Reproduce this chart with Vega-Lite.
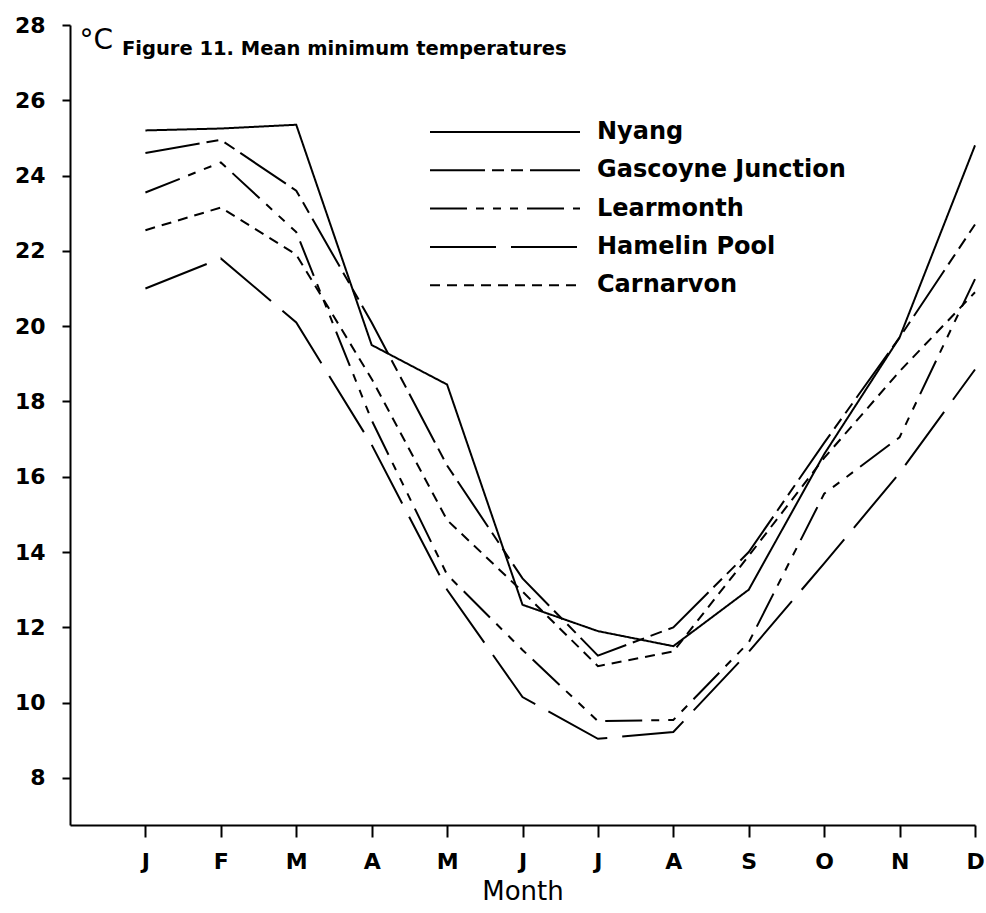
{
  "$schema": "https://vega.github.io/schema/vega-lite/v6.json",
  "width": 905,
  "height": 800,
  "autosize": "none",
  "padding": {"left": 70, "top": 25, "right": 11, "bottom": 88},
  "background": "white",
  "title": {
    "text": "Figure 11. Mean minimum temperatures",
    "anchor": "start",
    "frame": "group",
    "orient": "top",
    "offset": 0,
    "dx": 52,
    "dy": 45,
    "baseline": "top",
    "font": "DejaVu Sans",
    "fontSize": 19.5,
    "fontWeight": "bold",
    "color": "black"
  },
  "data": {
    "values": [
      {"station": "Nyang", "month": 1, "temp": 25.2},
      {"station": "Nyang", "month": 2, "temp": 25.25},
      {"station": "Nyang", "month": 3, "temp": 25.35},
      {"station": "Nyang", "month": 4, "temp": 19.5},
      {"station": "Nyang", "month": 5, "temp": 18.45},
      {"station": "Nyang", "month": 6, "temp": 12.6},
      {"station": "Nyang", "month": 7, "temp": 11.9},
      {"station": "Nyang", "month": 8, "temp": 11.5},
      {"station": "Nyang", "month": 9, "temp": 13.0},
      {"station": "Nyang", "month": 10, "temp": 16.6},
      {"station": "Nyang", "month": 11, "temp": 19.7},
      {"station": "Nyang", "month": 12, "temp": 24.8},
      {"station": "Gascoyne Junction", "month": 1, "temp": 24.6},
      {"station": "Gascoyne Junction", "month": 2, "temp": 24.95},
      {"station": "Gascoyne Junction", "month": 3, "temp": 23.6},
      {"station": "Gascoyne Junction", "month": 4, "temp": 20.1},
      {"station": "Gascoyne Junction", "month": 5, "temp": 16.3},
      {"station": "Gascoyne Junction", "month": 6, "temp": 13.3},
      {"station": "Gascoyne Junction", "month": 7, "temp": 11.25},
      {"station": "Gascoyne Junction", "month": 8, "temp": 12.0},
      {"station": "Gascoyne Junction", "month": 9, "temp": 14.0},
      {"station": "Gascoyne Junction", "month": 10, "temp": 16.9},
      {"station": "Gascoyne Junction", "month": 11, "temp": 19.7},
      {"station": "Gascoyne Junction", "month": 12, "temp": 22.7},
      {"station": "Learmonth", "month": 1, "temp": 23.55},
      {"station": "Learmonth", "month": 2, "temp": 24.35},
      {"station": "Learmonth", "month": 3, "temp": 22.5},
      {"station": "Learmonth", "month": 4, "temp": 17.5},
      {"station": "Learmonth", "month": 5, "temp": 13.4},
      {"station": "Learmonth", "month": 6, "temp": 11.4},
      {"station": "Learmonth", "month": 7, "temp": 9.51},
      {"station": "Learmonth", "month": 8, "temp": 9.54},
      {"station": "Learmonth", "month": 9, "temp": 11.6},
      {"station": "Learmonth", "month": 10, "temp": 15.55},
      {"station": "Learmonth", "month": 11, "temp": 17.05},
      {"station": "Learmonth", "month": 12, "temp": 21.25},
      {"station": "Hamelin Pool", "month": 1, "temp": 21.0},
      {"station": "Hamelin Pool", "month": 2, "temp": 21.8},
      {"station": "Hamelin Pool", "month": 3, "temp": 20.1},
      {"station": "Hamelin Pool", "month": 4, "temp": 16.85},
      {"station": "Hamelin Pool", "month": 5, "temp": 13.0},
      {"station": "Hamelin Pool", "month": 6, "temp": 10.15},
      {"station": "Hamelin Pool", "month": 7, "temp": 9.04},
      {"station": "Hamelin Pool", "month": 8, "temp": 9.22},
      {"station": "Hamelin Pool", "month": 9, "temp": 11.35},
      {"station": "Hamelin Pool", "month": 10, "temp": 13.7},
      {"station": "Hamelin Pool", "month": 11, "temp": 16.1},
      {"station": "Hamelin Pool", "month": 12, "temp": 18.85},
      {"station": "Carnarvon", "month": 1, "temp": 22.55},
      {"station": "Carnarvon", "month": 2, "temp": 23.15},
      {"station": "Carnarvon", "month": 3, "temp": 21.9},
      {"station": "Carnarvon", "month": 4, "temp": 18.6},
      {"station": "Carnarvon", "month": 5, "temp": 14.85},
      {"station": "Carnarvon", "month": 6, "temp": 12.95},
      {"station": "Carnarvon", "month": 7, "temp": 10.97},
      {"station": "Carnarvon", "month": 8, "temp": 11.36},
      {"station": "Carnarvon", "month": 9, "temp": 13.9},
      {"station": "Carnarvon", "month": 10, "temp": 16.5},
      {"station": "Carnarvon", "month": 11, "temp": 18.8},
      {"station": "Carnarvon", "month": 12, "temp": 20.9}
    ]
  },
  "mark": {"type": "line", "color": "black", "strokeWidth": 2},
  "encoding": {
    "x": {
      "field": "month",
      "type": "quantitative",
      "scale": {"domain": [0, 12], "nice": false, "zero": false},
      "axis": {
        "values": [1, 2, 3, 4, 5, 6, 7, 8, 9, 10, 11, 12],
        "labelExpr": "['J','F','M','A','M','J','J','A','S','O','N','D'][datum.value-1]",
        "grid": false,
        "tickSize": 12,
        "labelPadding": 14,
        "labelFont": "DejaVu Sans",
        "labelFontSize": 22,
        "labelFontWeight": "bold",
        "labelFlush": false,
        "title": "Month",
        "titleFont": "DejaVu Sans",
        "titleFontSize": 26,
        "titleFontWeight": "normal",
        "titleY": 66,
        "titleBaseline": "middle"
      }
    },
    "y": {
      "field": "temp",
      "type": "quantitative",
      "scale": {"domain": [6.75, 28], "nice": false, "zero": false},
      "axis": {
        "values": [8, 10, 12, 14, 16, 18, 20, 22, 24, 26, 28],
        "grid": false,
        "tickSize": 8,
        "labelPadding": 17,
        "labelFont": "DejaVu Sans",
        "labelFontSize": 22,
        "labelFontWeight": "bold",
        "labelFlush": false,
        "title": "°C",
        "titleFont": "DejaVu Sans",
        "titleFontSize": 28,
        "titleFontWeight": "normal",
        "titleAngle": 0,
        "titleAlign": "left",
        "titleBaseline": "middle",
        "titleX": 9,
        "titleY": 15
      }
    },
    "strokeDash": {
      "field": "station",
      "type": "nominal",
      "scale": {
        "domain": ["Nyang", "Gascoyne Junction", "Learmonth", "Hamelin Pool", "Carnarvon"],
        "range": [[1, 0], [55, 7, 12, 7, 12, 7], [37, 9, 8, 9, 8, 9, 8, 9], [66, 15], [10, 7]]
      },
      "legend": {
        "orient": "none",
        "legendX": 423,
        "legendY": 95,
        "title": null,
        "symbolType": "M-10,0H10",
        "symbolSize": 225,
        "symbolStrokeWidth": 2,
        "symbolStrokeColor": "black",
        "labelFont": "DejaVu Sans",
        "labelFontSize": 24,
        "labelFontWeight": "bold",
        "labelColor": "black",
        "labelOffset": 80,
        "rowPadding": 14.3,
        "labelLimit": 400
      }
    }
  },
  "config": {
    "view": {"stroke": null},
    "axis": {
      "domainColor": "black",
      "domainWidth": 2,
      "tickColor": "black",
      "tickWidth": 2,
      "labelColor": "black",
      "titleColor": "black"
    }
  }
}
